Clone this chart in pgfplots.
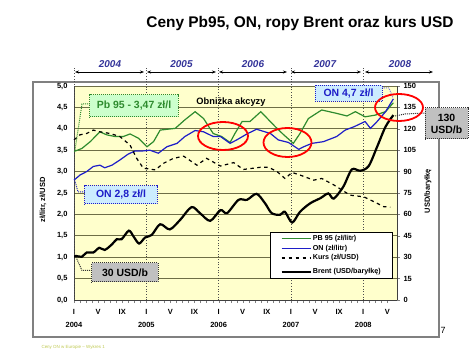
\documentclass[border=0pt]{standalone}
\usepackage{fontspec}
\setmainfont{Liberation Sans}
\usepackage{pgfplots}
\pgfplotsset{compat=1.18}
\usetikzlibrary{arrows.meta}
\definecolor{pbgreen}{RGB}{46,139,46}
\definecolor{onblue}{RGB}{30,30,200}
\definecolor{plotbg}{RGB}{255,255,204}
\definecolor{gridc}{RGB}{110,110,70}
\definecolor{yearblue}{RGB}{51,51,153}
\definecolor{boxgreen}{RGB}{204,255,204}
\definecolor{boxblue}{RGB}{204,236,255}
\definecolor{boxgray}{RGB}{192,192,192}
\definecolor{footc}{RGB}{190,200,80}
\begin{document}
\begin{tikzpicture}
\useasboundingbox (0,0) rectangle (474bp,355bp);
\draw[gray, line width=1.2bp] (33bp,18bp) rectangle (439bp,273bp);
\begin{axis}[at={(74bp,55bp)}, anchor=south west, width=323bp, height=214bp, scale only axis,
  xmin=0, xmax=53.6, ymin=0, ymax=5, clip=false,
  axis background/.style={fill=plotbg},
  axis x line*=bottom, axis y line*=left,
  x axis line style={-}, y axis line style={-},
  /pgf/number format/assume math mode=true,
  ytick={0,0.5,1,1.5,2,2.5,3,3.5,4,4.5,5},
  yticklabel style={/pgf/number format/fixed, /pgf/number format/fixed zerofill, /pgf/number format/precision=1, /pgf/number format/use comma, font=\bfseries\fontsize{7.5}{9}\selectfont},
  ymajorgrids, grid style={gridc, line width=0.8bp},
  xtick={0,4,...,52},
  xticklabels={{I\\2004},V,IX,{I\\2005},V,IX,{I\\2006},V,IX,{I\\2007},V,IX,{I\\2008},V},
  xticklabel style={align=center, yshift=-3bp, font=\bfseries\fontsize{7.5}{12.5}\selectfont},
  minor x tick num=3,
  tick align=outside, major tick length=3bp, minor tick length=3bp,
  ytick style={draw=none},
  axis line style={black!75, line width=0.8bp},
]
\foreach \m in {0,12,24,36,48} {
  \edef\tmp{\noexpand\draw[black!70, dotted, line width=0.7bp] (axis cs:\m,0) -- (axis cs:\m,5.47);}\tmp
}
\addplot[pbgreen, line width=1.2bp] table {
m v
0 3.47
1.3 3.54
2.7 3.70
4.3 3.93
5.4 3.86
6.8 3.82
8.2 3.82
9.3 3.88
10.7 3.78
12.1 3.58
13.2 3.70
14.3 3.97
16.8 4.01
18.4 4.21
20.1 4.40
21.5 4.24
23.1 3.89
24.5 3.82
25.9 3.68
26.7 3.89
27.9 4.17
29.2 4.17
31.0 4.40
32.3 4.21
33.4 4.05
34.8 3.86
36.4 3.66
37.5 3.89
38.9 4.24
41.1 4.44
43.6 4.36
45.3 4.30
46.7 4.40
48.3 4.28
50.0 4.32
51.7 4.40
53.0 4.61
};
\addplot[onblue, line width=1.2bp] table {
m v
0 2.80
1.0 2.92
2.1 3.00
3.2 3.12
4.3 3.15
5.1 3.09
6.3 3.15
7.6 3.27
9.0 3.41
10.1 3.48
11.2 3.48
12.6 3.50
14.0 3.43
15.4 3.58
17.1 3.66
18.4 3.82
20.1 3.96
21.5 3.93
23.1 3.82
24.3 3.82
25.9 3.66
27.0 3.74
28.7 3.88
30.3 3.99
32.6 3.89
33.9 3.74
35.6 3.68
37.3 3.52
38.1 3.58
39.5 3.66
41.4 3.70
43.6 3.82
45.0 3.97
46.5 4.05
48.3 4.17
49.2 4.01
50.3 4.17
51.7 4.40
53.0 4.70
};
\addplot[black, line width=1.2bp, dash pattern=on 3.5bp off 3.5bp] table {
m v
0 3.74
1 3.86
2.1 3.89
3.2 3.97
4.3 3.93
6 3.89
7.6 3.82
9.3 3.62
10.4 3.31
11.5 3.08
13.5 3.04
14.8 3.19
16.5 3.31
18.2 3.36
20.4 3.15
22.0 3.31
24.3 3.13
26.5 3.21
28.1 3.05
30.9 3.10
32.3 3.10
33.7 3.00
35.0 2.84
36.2 2.98
37.5 2.92
39.8 2.80
41.1 2.84
43.1 2.69
45.8 2.45
48.1 2.41
50.3 2.26
51.4 2.18
52.5 2.17
};
\end{axis}
\begin{axis}[at={(74bp,55bp)}, anchor=south west, width=323bp, height=214bp, scale only axis,
  xmin=0, xmax=53.6, ymin=0, ymax=150,
  axis x line=none, axis y line*=right,
  y axis line style={-, black!75, line width=0.8bp},
  /pgf/number format/assume math mode=true,
  ytick={0,15,...,150},
  yticklabel style={font=\bfseries\fontsize{7.5}{9}\selectfont},
  tick align=outside, major tick length=3bp,
  legend style={at={(0.985,0.318)}, anchor=north east, draw=black, line width=0.6bp, fill=white,
    font=\bfseries\fontsize{7.2}{8}\selectfont, inner xsep=10bp, inner ysep=2bp, row sep=0.5bp,
    nodes={inner sep=1.2bp}},
  legend cell align=left,
  legend image code/.code={\draw[#1] (0bp,0bp) -- (29bp,0bp);},
]
\addlegendimage{pbgreen, line width=1.2bp}
\addlegendentry{PB 95 (zł/litr)}
\addlegendimage{onblue, line width=1.2bp}
\addlegendentry{ON (zł/litr)}
\addlegendimage{black, line width=1.2bp, dash pattern=on 3.5bp off 3.5bp}
\addlegendentry{Kurs (zł/USD)}
\addlegendimage{empty legend}
\addlegendentry{}
\addplot[black, line width=2.2bp, smooth, tension=0.5] table {
m v
0 30
0.3 30.9
1.3 30.3
2.1 33.3
3.2 33.3
4.2 36.6
5.1 35.1
6.3 39
7.1 42.6
7.9 42.6
9.1 48.6
9.9 44.4
10.8 39.6
11.8 43.8
12.9 45.6
14.3 53.1
15.9 49.5
17.6 56.1
19.5 65.1
20.9 60.9
22.6 55.5
24.3 63
25.4 60.9
27.3 70.2
28.7 70.2
30.3 74.4
31.7 67.8
32.8 60.9
34.2 59.7
35.0 61.8
36.2 54.3
37.5 61.8
39.2 67.8
40.9 71.4
42.2 74.7
43.1 71.1
44.7 79.5
46.1 91.5
47.5 90.6
48.9 93.9
50.3 107.4
51.7 121.5
53.0 129.6
};
\addlegendentry{Brent (USD/baryłkę)}
\end{axis}
\begin{scope}[x=1bp, y=-1bp, yshift=355bp]
\node[font=\bfseries\fontsize{15.5}{18}\selectfont] at (300,24) {Ceny Pb95, ON, ropy Brent oraz kurs USD};
\foreach \a/\b/\c/\t in {75/144/110/2004, 147/216/181.5/2005, 219/287/253/2006, 291/361/325/2007, 365/433/400/2008} {
  \draw[{Stealth[length=4bp,width=3bp]}-{Stealth[length=4bp,width=3bp]}, line width=0.6bp] (\a,72) -- (\b,72);
  \node[font=\bfseries\itshape\fontsize{10}{12}\selectfont, text=yearblue] at (\c,64) {\t};
}
\node[font=\bfseries\fontsize{7.5}{9}\selectfont, rotate=90] at (43,200) {zł/litr, zł/USD};
\node[font=\bfseries\fontsize{7.5}{9}\selectfont, rotate=90] at (428,191) {USD/baryłkę};
\node[font=\bfseries\fontsize{9.3}{11}\selectfont] at (231,102) {Obniżka akcyzy};
% boxes
\draw[pbgreen, densely dotted, line width=1bp] (90,104) -- (82,104) -- (75,150);
\node[draw=pbgreen, densely dotted, line width=1bp, fill=boxgreen, minimum width=88bp, minimum height=22bp, inner sep=0pt,
  font=\bfseries\fontsize{10.5}{12}\selectfont, text=pbgreen] at (134,106) {Pb 95 - 3,47 zł/l};
\draw[onblue, densely dotted, line width=1bp] (85,192) -- (78,192) -- (75,181);
\node[draw=onblue, densely dotted, line width=1bp, fill=boxblue, minimum width=72bp, minimum height=18bp, inner sep=0pt,
  font=\bfseries\fontsize{10.5}{12}\selectfont, text=onblue] at (121,195) {ON 2,8 zł/l};
\draw[black!80, densely dotted, line width=1bp] (76,257) -- (82,270.5) -- (92,270.5);
\node[draw=black!80, densely dotted, line width=1bp, fill=boxgray, minimum width=66bp, minimum height=19bp, inner sep=0pt,
  font=\bfseries\fontsize{10.5}{12}\selectfont] at (125,272.5) {30 USD/b};
\draw[onblue!60, densely dotted, line width=1bp] (382,88) -- (389,88) -- (393,98);
\node[draw=onblue, densely dotted, line width=1bp, fill=boxblue, minimum width=67bp, minimum height=16bp, inner sep=0pt,
  font=\bfseries\fontsize{10.5}{12}\selectfont, text=onblue] at (348.5,93.5) {ON 4,7 zł/l};
\draw[black!80, densely dotted, line width=1bp] (395,116) -- (405,114) -- (425,113);
\node[draw=black!80, densely dotted, line width=1bp, fill=boxgray, minimum width=43bp, minimum height=31bp, inner sep=0pt, align=center,
  font=\bfseries\fontsize{10.5}{12}\selectfont] at (446.5,123.5) {130\\USD/b};
% ellipses
\draw[red, line width=1.8bp] (223,136) ellipse [x radius=25bp, y radius=14bp];
\draw[red, line width=1.8bp] (287.5,142.5) ellipse [x radius=24bp, y radius=14.5bp];
\draw[red, line width=1.8bp] (399,107.5) ellipse [x radius=24bp, y radius=13.5bp];
\node[font=\fontsize{9}{10}\selectfont] at (443,330) {7};
\node[anchor=west, text=footc, font=\fontsize{4.5}{5}\selectfont] at (38,347) {Ceny ON w Europie -- Wykres 1};
\end{scope}
\end{tikzpicture}
\end{document}
